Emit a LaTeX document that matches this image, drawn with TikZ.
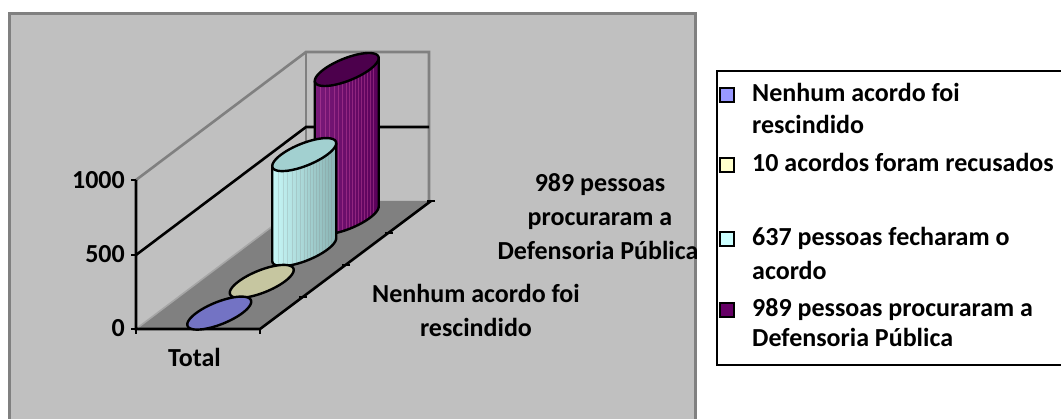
\documentclass[tikz,border=0pt]{standalone}
\usepackage{fontspec}
\setmainfont{Carlito}
\definecolor{chartbg}{HTML}{C0C0C0}
\definecolor{framegray}{HTML}{808080}
\definecolor{floorgray}{HTML}{808080}
\definecolor{serA}{HTML}{9999FF}
\definecolor{serB}{HTML}{FFFFCC}
\definecolor{serC}{HTML}{CCFFFF}
\definecolor{serD}{HTML}{660066}
\definecolor{blueTop}{HTML}{7373C4}
\definecolor{yelTop}{HTML}{C6C6A0}
\definecolor{cyanTop}{HTML}{A2D0D0}
\definecolor{cyanL}{HTML}{C8F8F8}
\definecolor{cyanR}{HTML}{88B2B2}
\definecolor{purTop}{HTML}{4C004C}
\definecolor{purL}{HTML}{7A1A7A}
\definecolor{purR}{HTML}{5A005A}
\newcommand{\ellpath}{plot[domain=0:360,samples=73,smooth,variable=\t]({23.1*cos(\t)+22.1*sin(\t)},{-16.5*sin(\t)}) -- cycle}
\newcommand{\mycyl}[8]{% cx, cy, h, top, left, right, stripe colour, stripe opacity
  \begin{scope}[shift={(#1,#2)}]
    \path[left color=#5,right color=#6]
      (-31.97,11.40) -- (-31.97,{11.40-#3}) -- (31.97,{-11.40-#3}) -- (31.97,-11.40)
      -- plot[domain=43.7:-136.3,samples=50,smooth,variable=\t]({23.1*cos(\t)+22.1*sin(\t)},{-16.5*sin(\t)}) -- cycle;
    \begin{scope}
      \clip (-31.97,11.40) -- (-31.97,{11.40-#3}) -- (31.97,{-11.40-#3}) -- (31.97,-11.40)
      -- plot[domain=43.7:-136.3,samples=50,smooth,variable=\t]({23.1*cos(\t)+22.1*sin(\t)},{-16.5*sin(\t)}) -- cycle;
      \foreach \s in {-26,-21,-17,-12,-8,-4,0,3,6,9,12,15,18,21,24,27}
        \draw[#7,opacity=#8,line width=0.7] (\s,{-#3-20}) -- (\s,20);
    \end{scope}
    \draw[cylline] (-31.97,{11.40-#3}) -- (-31.97,11.40)
      -- plot[domain=-136.3:43.7,samples=50,smooth,variable=\t]({23.1*cos(\t)+22.1*sin(\t)},{-16.5*sin(\t)})
      -- (31.97,{-11.40-#3});
    \begin{scope}[shift={(0,-#3)}]
      \filldraw[cylline,fill=#4] \ellpath;
    \end{scope}
  \end{scope}}
\begin{document}
\begin{tikzpicture}[x=1pt,y=-1pt,
  lbl/.style={font=\fontsize{26}{32}\selectfont\bfseries,inner sep=0pt},
  axisline/.style={black,line width=2.6},
  wallline/.style={framegray,line width=2.6},
  cylline/.style={black,line width=2.4,line join=round},
  legsq/.style={draw=black,line width=2}]
\useasboundingbox (0,0) rectangle (1061,419);
\clip (0,0) rectangle (1061,419);
% chart area
\path[fill=chartbg,draw=framegray,line width=3] (9.5,13.5) rectangle (695,440);
% legend box
\path[fill=white,draw=black,line width=2.6] (717,71) rectangle (1080,365);
% floor
\fill[floorgray] (136,329) -- (260,329) -- (431,201) -- (306,201) -- cycle;
\draw[gray!70,line width=1.6] (136,329) -- (306,201);
% walls
\draw[wallline] (136,180) -- (306,52) -- (429,52) -- (429,201);
\draw[wallline] (306,52) -- (306,201);
% gridline 500
\draw[axisline] (136,255) -- (306,127) -- (429,127);
% axes
\draw[axisline] (136,180) -- (136,329) -- (260,329) -- (431,201);
\draw[axisline] (131,180) -- (136,180) (131,255) -- (136,255) (131,329) -- (136,329)
  (136,329) -- (136,334) (260,329) -- (260,334)
  (299,297) -- (307,297) (342,265) -- (350,265) (385,233) -- (393,233) (427,201) -- (435,201);
% cylinders
\mycyl{346.75}{217.9}{148.4}{purTop}{purL}{purR}{magenta!60!white}{0.3}
\mycyl{304.25}{249.6}{95.0}{cyanTop}{cyanL}{cyanR}{gray}{0.22}
\begin{scope}[shift={(261.75,281.4)}]
  \filldraw[cylline,fill=yelTop] \ellpath;
\end{scope}
\begin{scope}[shift={(219.25,313.1)}]
  \filldraw[cylline,fill=blueTop] \ellpath;
\end{scope}
% axis labels
\node[lbl,anchor=base east] (v1000) at (125,189) {1000};
\node[lbl,anchor=base east] (v500) at (125,263) {500};
\node[lbl,anchor=base east] (v0) at (125,337) {0};
\node[lbl,anchor=base] (total) at (194.5,367) {Total};
\node[lbl,anchor=base] (d1a) at (600,192) {989 pessoas};
\node[lbl,anchor=base] (d1b) at (600,226) {procuraram a};
\node[lbl,anchor=base] (d1c) at (598,260) {Defensoria Pública};
\node[lbl,anchor=base] (d2a) at (476,303) {Nenhum acordo foi};
\node[lbl,anchor=base] (d2b) at (476,337) {rescindido};
% legend
\path[legsq,fill=serA] (720,88) rectangle (734,102);
\path[legsq,fill=serB] (720,158.5) rectangle (734,172.5);
\path[legsq,fill=serC] (720,232.5) rectangle (734,246.5);
\path[legsq,fill=serD] (720,303) rectangle (734,317);
\node[lbl,anchor=base west] (l1a) at (752,101.7) {Nenhum acordo foi};
\node[lbl,anchor=base west] (l1b) at (752,134) {rescindido};
\node[lbl,anchor=base west] (l2a) at (752,171.7) {10 acordos foram recusados};
\node[lbl,anchor=base west] (l3a) at (752,246) {637 pessoas fecharam o};
\node[lbl,anchor=base west] (l3b) at (752,280) {acordo};
\node[lbl,anchor=base west] (l4a) at (752,316.7) {989 pessoas procuraram a};
\node[lbl,anchor=base west] (l4b) at (752,346.7) {Defensoria Pública};
\end{tikzpicture}
\end{document}
